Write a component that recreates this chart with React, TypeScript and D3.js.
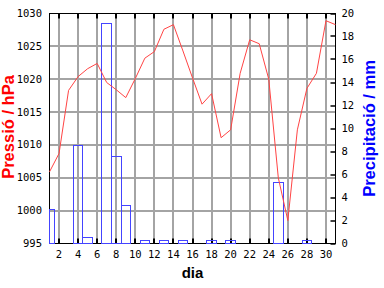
import React from "react";
import * as d3 from "d3";

const days = [1,2,3,4,5,6,7,8,9,10,11,12,13,14,15,16,17,18,19,20,21,22,23,24,25,26,27,28,29,30,31];
const pressure = [1005.9,1008.7,1018.3,1020.4,1021.6,1022.4,1019.5,1018.4,1017.2,1020.1,1023.2,1024.2,1027.6,1028.3,1024.3,1020.2,1016.2,1017.8,1011.1,1012.3,1020.9,1026.0,1025.4,1020.0,1005.0,998.5,1012.3,1018.6,1020.9,1028.9,1028.3];
const precip = [3.0,0,0,8.5,0.5,0,19.1,7.6,3.3,0,0.3,0,0.3,0,0.3,0,0,0.3,0,0.3,0,0,0,0,5.3,0,0,0.3,0,0,0];
const xTicks = [2,4,6,8,10,12,14,16,18,20,22,24,26,28,30];
const pTicks = [995,1000,1005,1010,1015,1020,1025,1030];
const rTicks = [0,2,4,6,8,10,12,14,16,18,20];

const L = 49.5, R = 335.5, T = 13.5, B = 243.5;

export default function App() {
  const x = d3.scaleLinear().domain([1, 31]).range([L, R]);
  const yP = d3.scaleLinear().domain([995, 1030]).range([B, T]);
  const yR = d3.scaleLinear().domain([0, 20]).range([B, T]);
  const line = d3.line<number>().x((_, i) => x(days[i])).y((d) => yP(d));
  const mono = "'DejaVu Sans Mono', monospace";
  const sans = "'Liberation Sans', Arial, sans-serif";
  const grid = "#a4a4a4";
  return (
    <svg width={384} height={288} style={{ position: "absolute", left: 0, top: 0, background: "#fff" }}>
      <rect x={0} y={0} width={384} height={288} fill="#fff" />
      {xTicks.map((d) => (
        <line key={"gx" + d} x1={Math.round(x(d))} x2={Math.round(x(d))} y1={T} y2={B} stroke={grid} strokeWidth={2} />
      ))}
      {pTicks.slice(1, -1).map((v) => (
        <line key={"gy" + v} x1={L} x2={R} y1={Math.round(yP(v))} y2={Math.round(yP(v))} stroke={grid} strokeWidth={2} />
      ))}
      <rect x={L} y={T} width={R - L} height={B - T} fill="none" stroke="#000" strokeWidth={1} />
      {xTicks.map((d) => (
        <g key={"tx" + d}>
          <line x1={Math.round(x(d))} x2={Math.round(x(d))} y1={B} y2={B - 5} stroke="#000" strokeWidth={2} />
          <line x1={Math.round(x(d))} x2={Math.round(x(d))} y1={T} y2={T + 5} stroke="#000" strokeWidth={2} />
        </g>
      ))}
      {rTicks.map((v) => (
        <line key={"tr" + v} x1={R} x2={R - 5} y1={Math.round(yR(v))} y2={Math.round(yR(v))} stroke="#000" strokeWidth={1.5} />
      ))}
      {precip.map((v, i) => {
        const x0 = Math.max(L, Math.floor(x(days[i] - 0.5)) + 0.5);
        const x1 = Math.min(R, Math.floor(x(days[i] + 0.5)) + 0.5);
        const y0 = Math.floor(yR(v)) + 0.5;
        return (
          <rect key={"b" + i} x={x0} y={Math.min(y0, B)} width={x1 - x0} height={Math.max(0, B - y0)} fill="none" stroke="#4444ff" strokeWidth={1} />
        );
      })}
      <path d={line(pressure) || ""} fill="none" stroke="#ff4444" strokeWidth={1} />
      {xTicks.map((d) => (
        <text key={"lx" + d} x={x(d)} y={257.5} textAnchor="middle" fontFamily={mono} fontSize={10.5} fill="#000">{d}</text>
      ))}
      {pTicks.map((v) => (
        <text key={"lp" + v} x={42} y={yP(v) + 3.5} textAnchor="end" fontFamily={mono} fontSize={10.5} fill="#000">{v}</text>
      ))}
      {rTicks.map((v) => (
        <text key={"lr" + v} x={341.5} y={yR(v) + 3.5} textAnchor="start" fontFamily={mono} fontSize={10.5} fill="#000">{v}</text>
      ))}
      <text x={192.5} y={277.5} textAnchor="middle" fontFamily={sans} fontWeight="bold" fontSize={15} fill="#000">dia</text>
      <text transform="translate(14,127) rotate(-90)" textAnchor="middle" fontFamily={sans} fontWeight="bold" fontSize={16.5} fill="#ff0000">Pressió / hPa</text>
      <text transform="translate(375,128.5) rotate(-90)" textAnchor="middle" fontFamily={sans} fontWeight="bold" fontSize={16.5} fill="#0000ff">Precipitació / mm</text>
    </svg>
  );
}
